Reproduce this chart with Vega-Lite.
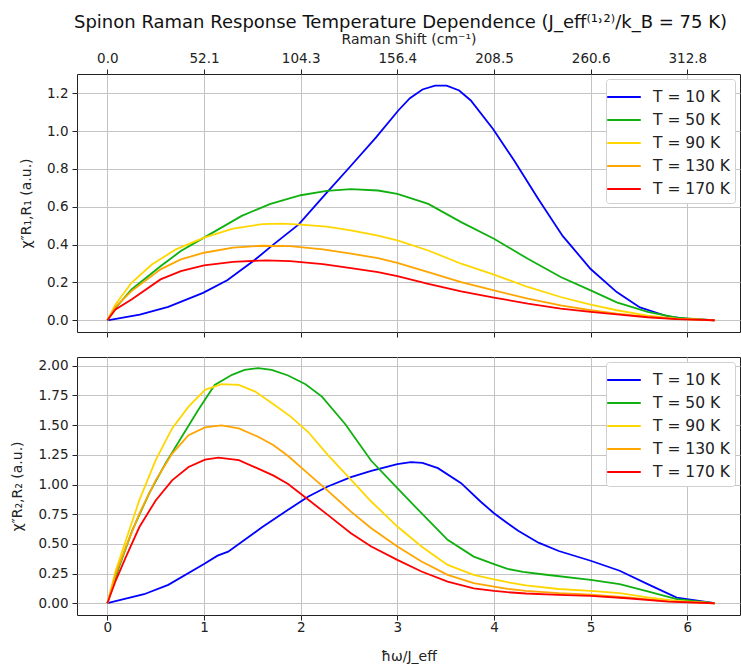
{
  "$schema": "https://vega.github.io/schema/vega-lite/v6.json",
  "background": "white",
  "padding": {"left": 10, "right": 0, "top": 13, "bottom": 5},
  "config": {
    "font": "DejaVu Sans",
    "view": {"stroke": "#222", "strokeWidth": 1},
    "axis": {"labelFont": "DejaVu Sans", "labelFontSize": 13.5, "labelColor": "#222", "titleFont": "DejaVu Sans", "titleFontSize": 14, "titleFontWeight": "normal", "titleColor": "#222", "tickColor": "#222", "tickSize": 5, "domain": false, "gridColor": "#c4c4c4", "gridWidth": 1, "labelPadding": 4},
    "legend": {"orient": "top-right", "offset": 5, "fillColor": "white", "strokeColor": "#d0d0d0", "cornerRadius": 3, "padding": 5, "symbolType": "M-1.4,0H1.4", "symbolSize": 576, "symbolOffset": 0, "symbolStrokeWidth": 2, "labelFont": "DejaVu Sans", "labelFontSize": 15.5, "labelColor": "#222", "rowPadding": 1, "labelOffset": 16},
    "line": {"strokeWidth": 1.8}
  },
  "datasets": {
    "top": [
      {"T": "T = 10 K", "x": 0, "y": 0}, {"T": "T = 10 K", "x": 0.336, "y": 0.03}, {"T": "T = 10 K", "x": 0.63, "y": 0.071}, {"T": "T = 10 K", "x": 0.99, "y": 0.145}, {"T": "T = 10 K", "x": 1.24, "y": 0.212}, {"T": "T = 10 K", "x": 1.51, "y": 0.313}, {"T": "T = 10 K", "x": 1.72, "y": 0.401}, {"T": "T = 10 K", "x": 1.98, "y": 0.507}, {"T": "T = 10 K", "x": 2.27, "y": 0.675}, {"T": "T = 10 K", "x": 2.52, "y": 0.817}, {"T": "T = 10 K", "x": 2.78, "y": 0.967}, {"T": "T = 10 K", "x": 3.01, "y": 1.109}, {"T": "T = 10 K", "x": 3.13, "y": 1.174}, {"T": "T = 10 K", "x": 3.26, "y": 1.22}, {"T": "T = 10 K", "x": 3.39, "y": 1.241}, {"T": "T = 10 K", "x": 3.51, "y": 1.241}, {"T": "T = 10 K", "x": 3.64, "y": 1.215}, {"T": "T = 10 K", "x": 3.76, "y": 1.162}, {"T": "T = 10 K", "x": 3.99, "y": 1.011}, {"T": "T = 10 K", "x": 4.21, "y": 0.843}, {"T": "T = 10 K", "x": 4.46, "y": 0.64}, {"T": "T = 10 K", "x": 4.71, "y": 0.446}, {"T": "T = 10 K", "x": 5.0, "y": 0.271}, {"T": "T = 10 K", "x": 5.27, "y": 0.149}, {"T": "T = 10 K", "x": 5.51, "y": 0.068}, {"T": "T = 10 K", "x": 5.8, "y": 0.02}, {"T": "T = 10 K", "x": 6.0, "y": 0.007}, {"T": "T = 10 K", "x": 6.283, "y": 0},
      {"T": "T = 50 K", "x": 0, "y": 0}, {"T": "T = 50 K", "x": 0.084, "y": 0.065}, {"T": "T = 50 K", "x": 0.25, "y": 0.163}, {"T": "T = 50 K", "x": 0.55, "y": 0.286}, {"T": "T = 50 K", "x": 0.76, "y": 0.366}, {"T": "T = 50 K", "x": 1.0, "y": 0.437}, {"T": "T = 50 K", "x": 1.39, "y": 0.552}, {"T": "T = 50 K", "x": 1.68, "y": 0.614}, {"T": "T = 50 K", "x": 2.0, "y": 0.661}, {"T": "T = 50 K", "x": 2.27, "y": 0.684}, {"T": "T = 50 K", "x": 2.52, "y": 0.693}, {"T": "T = 50 K", "x": 2.8, "y": 0.686}, {"T": "T = 50 K", "x": 3.0, "y": 0.668}, {"T": "T = 50 K", "x": 3.32, "y": 0.615}, {"T": "T = 50 K", "x": 3.66, "y": 0.519}, {"T": "T = 50 K", "x": 4.0, "y": 0.431}, {"T": "T = 50 K", "x": 4.35, "y": 0.325}, {"T": "T = 50 K", "x": 4.69, "y": 0.229}, {"T": "T = 50 K", "x": 5.0, "y": 0.158}, {"T": "T = 50 K", "x": 5.27, "y": 0.095}, {"T": "T = 50 K", "x": 5.59, "y": 0.045}, {"T": "T = 50 K", "x": 5.89, "y": 0.014}, {"T": "T = 50 K", "x": 6.283, "y": 0},
      {"T": "T = 90 K", "x": 0, "y": 0}, {"T": "T = 90 K", "x": 0.084, "y": 0.083}, {"T": "T = 90 K", "x": 0.25, "y": 0.198}, {"T": "T = 90 K", "x": 0.46, "y": 0.295}, {"T": "T = 90 K", "x": 0.71, "y": 0.375}, {"T": "T = 90 K", "x": 1.0, "y": 0.437}, {"T": "T = 90 K", "x": 1.3, "y": 0.485}, {"T": "T = 90 K", "x": 1.6, "y": 0.508}, {"T": "T = 90 K", "x": 1.81, "y": 0.511}, {"T": "T = 90 K", "x": 2.0, "y": 0.506}, {"T": "T = 90 K", "x": 2.27, "y": 0.495}, {"T": "T = 90 K", "x": 2.52, "y": 0.475}, {"T": "T = 90 K", "x": 2.8, "y": 0.448}, {"T": "T = 90 K", "x": 3.0, "y": 0.422}, {"T": "T = 90 K", "x": 3.32, "y": 0.369}, {"T": "T = 90 K", "x": 3.66, "y": 0.299}, {"T": "T = 90 K", "x": 4.0, "y": 0.241}, {"T": "T = 90 K", "x": 4.35, "y": 0.176}, {"T": "T = 90 K", "x": 4.69, "y": 0.123}, {"T": "T = 90 K", "x": 5.0, "y": 0.083}, {"T": "T = 90 K", "x": 5.27, "y": 0.053}, {"T": "T = 90 K", "x": 5.59, "y": 0.025}, {"T": "T = 90 K", "x": 5.89, "y": 0.009}, {"T": "T = 90 K", "x": 6.283, "y": 0},
      {"T": "T = 130 K", "x": 0, "y": 0}, {"T": "T = 130 K", "x": 0.084, "y": 0.071}, {"T": "T = 130 K", "x": 0.25, "y": 0.154}, {"T": "T = 130 K", "x": 0.55, "y": 0.269}, {"T": "T = 130 K", "x": 0.76, "y": 0.322}, {"T": "T = 130 K", "x": 1.0, "y": 0.357}, {"T": "T = 130 K", "x": 1.3, "y": 0.384}, {"T": "T = 130 K", "x": 1.6, "y": 0.394}, {"T": "T = 130 K", "x": 1.89, "y": 0.392}, {"T": "T = 130 K", "x": 2.23, "y": 0.375}, {"T": "T = 130 K", "x": 2.52, "y": 0.352}, {"T": "T = 130 K", "x": 2.8, "y": 0.329}, {"T": "T = 130 K", "x": 3.0, "y": 0.304}, {"T": "T = 130 K", "x": 3.32, "y": 0.255}, {"T": "T = 130 K", "x": 3.66, "y": 0.202}, {"T": "T = 130 K", "x": 4.0, "y": 0.158}, {"T": "T = 130 K", "x": 4.35, "y": 0.114}, {"T": "T = 130 K", "x": 4.69, "y": 0.079}, {"T": "T = 130 K", "x": 5.0, "y": 0.053}, {"T": "T = 130 K", "x": 5.27, "y": 0.035}, {"T": "T = 130 K", "x": 5.59, "y": 0.018}, {"T": "T = 130 K", "x": 5.89, "y": 0.007}, {"T": "T = 130 K", "x": 6.283, "y": 0},
      {"T": "T = 170 K", "x": 0, "y": 0}, {"T": "T = 170 K", "x": 0.084, "y": 0.057}, {"T": "T = 170 K", "x": 0.25, "y": 0.11}, {"T": "T = 170 K", "x": 0.55, "y": 0.216}, {"T": "T = 170 K", "x": 0.76, "y": 0.26}, {"T": "T = 170 K", "x": 1.0, "y": 0.29}, {"T": "T = 170 K", "x": 1.3, "y": 0.309}, {"T": "T = 170 K", "x": 1.64, "y": 0.317}, {"T": "T = 170 K", "x": 1.89, "y": 0.313}, {"T": "T = 170 K", "x": 2.23, "y": 0.297}, {"T": "T = 170 K", "x": 2.52, "y": 0.276}, {"T": "T = 170 K", "x": 2.8, "y": 0.255}, {"T": "T = 170 K", "x": 3.0, "y": 0.234}, {"T": "T = 170 K", "x": 3.32, "y": 0.193}, {"T": "T = 170 K", "x": 3.66, "y": 0.153}, {"T": "T = 170 K", "x": 4.0, "y": 0.12}, {"T": "T = 170 K", "x": 4.35, "y": 0.088}, {"T": "T = 170 K", "x": 4.69, "y": 0.062}, {"T": "T = 170 K", "x": 5.0, "y": 0.044}, {"T": "T = 170 K", "x": 5.27, "y": 0.031}, {"T": "T = 170 K", "x": 5.59, "y": 0.016}, {"T": "T = 170 K", "x": 5.89, "y": 0.006}, {"T": "T = 170 K", "x": 6.283, "y": 0}
    ],
    "bottom": [
      {"T": "T = 10 K", "x": 0, "y": 0}, {"T": "T = 10 K", "x": 0.38, "y": 0.076}, {"T": "T = 10 K", "x": 0.63, "y": 0.155}, {"T": "T = 10 K", "x": 1.0, "y": 0.33}, {"T": "T = 10 K", "x": 1.14, "y": 0.401}, {"T": "T = 10 K", "x": 1.25, "y": 0.434}, {"T": "T = 10 K", "x": 1.6, "y": 0.64}, {"T": "T = 10 K", "x": 1.87, "y": 0.787}, {"T": "T = 10 K", "x": 2.08, "y": 0.899}, {"T": "T = 10 K", "x": 2.28, "y": 0.983}, {"T": "T = 10 K", "x": 2.52, "y": 1.062}, {"T": "T = 10 K", "x": 2.73, "y": 1.115}, {"T": "T = 10 K", "x": 3.0, "y": 1.171}, {"T": "T = 10 K", "x": 3.14, "y": 1.188}, {"T": "T = 10 K", "x": 3.26, "y": 1.183}, {"T": "T = 10 K", "x": 3.42, "y": 1.138}, {"T": "T = 10 K", "x": 3.66, "y": 1.011}, {"T": "T = 10 K", "x": 3.86, "y": 0.857}, {"T": "T = 10 K", "x": 4.0, "y": 0.758}, {"T": "T = 10 K", "x": 4.14, "y": 0.674}, {"T": "T = 10 K", "x": 4.25, "y": 0.61}, {"T": "T = 10 K", "x": 4.46, "y": 0.51}, {"T": "T = 10 K", "x": 4.67, "y": 0.44}, {"T": "T = 10 K", "x": 5.0, "y": 0.358}, {"T": "T = 10 K", "x": 5.3, "y": 0.274}, {"T": "T = 10 K", "x": 5.59, "y": 0.161}, {"T": "T = 10 K", "x": 5.89, "y": 0.048}, {"T": "T = 10 K", "x": 6.283, "y": 0},
      {"T": "T = 50 K", "x": 0, "y": 0}, {"T": "T = 50 K", "x": 0.12, "y": 0.302}, {"T": "T = 50 K", "x": 0.257, "y": 0.612}, {"T": "T = 50 K", "x": 0.43, "y": 0.922}, {"T": "T = 50 K", "x": 0.6, "y": 1.176}, {"T": "T = 50 K", "x": 0.77, "y": 1.402}, {"T": "T = 50 K", "x": 0.94, "y": 1.628}, {"T": "T = 50 K", "x": 1.11, "y": 1.839}, {"T": "T = 50 K", "x": 1.29, "y": 1.924}, {"T": "T = 50 K", "x": 1.42, "y": 1.966}, {"T": "T = 50 K", "x": 1.56, "y": 1.98}, {"T": "T = 50 K", "x": 1.7, "y": 1.966}, {"T": "T = 50 K", "x": 1.87, "y": 1.918}, {"T": "T = 50 K", "x": 2.05, "y": 1.845}, {"T": "T = 50 K", "x": 2.22, "y": 1.74}, {"T": "T = 50 K", "x": 2.46, "y": 1.51}, {"T": "T = 50 K", "x": 2.73, "y": 1.2}, {"T": "T = 50 K", "x": 3.0, "y": 0.969}, {"T": "T = 50 K", "x": 3.25, "y": 0.758}, {"T": "T = 50 K", "x": 3.52, "y": 0.534}, {"T": "T = 50 K", "x": 3.79, "y": 0.393}, {"T": "T = 50 K", "x": 4.0, "y": 0.329}, {"T": "T = 50 K", "x": 4.14, "y": 0.289}, {"T": "T = 50 K", "x": 4.3, "y": 0.265}, {"T": "T = 50 K", "x": 4.54, "y": 0.24}, {"T": "T = 50 K", "x": 5.0, "y": 0.197}, {"T": "T = 50 K", "x": 5.3, "y": 0.161}, {"T": "T = 50 K", "x": 5.59, "y": 0.099}, {"T": "T = 50 K", "x": 5.89, "y": 0.034}, {"T": "T = 50 K", "x": 6.283, "y": 0},
      {"T": "T = 90 K", "x": 0, "y": 0}, {"T": "T = 90 K", "x": 0.086, "y": 0.274}, {"T": "T = 90 K", "x": 0.19, "y": 0.527}, {"T": "T = 90 K", "x": 0.33, "y": 0.866}, {"T": "T = 90 K", "x": 0.5, "y": 1.205}, {"T": "T = 90 K", "x": 0.67, "y": 1.473}, {"T": "T = 90 K", "x": 0.84, "y": 1.656}, {"T": "T = 90 K", "x": 1.01, "y": 1.797}, {"T": "T = 90 K", "x": 1.18, "y": 1.845}, {"T": "T = 90 K", "x": 1.36, "y": 1.839}, {"T": "T = 90 K", "x": 1.53, "y": 1.783}, {"T": "T = 90 K", "x": 1.73, "y": 1.67}, {"T": "T = 90 K", "x": 1.9, "y": 1.57}, {"T": "T = 90 K", "x": 2.08, "y": 1.44}, {"T": "T = 90 K", "x": 2.28, "y": 1.25}, {"T": "T = 90 K", "x": 2.51, "y": 1.05}, {"T": "T = 90 K", "x": 2.73, "y": 0.857}, {"T": "T = 90 K", "x": 3.0, "y": 0.646}, {"T": "T = 90 K", "x": 3.25, "y": 0.478}, {"T": "T = 90 K", "x": 3.52, "y": 0.323}, {"T": "T = 90 K", "x": 3.79, "y": 0.239}, {"T": "T = 90 K", "x": 4.0, "y": 0.202}, {"T": "T = 90 K", "x": 4.14, "y": 0.177}, {"T": "T = 90 K", "x": 4.33, "y": 0.15}, {"T": "T = 90 K", "x": 4.67, "y": 0.12}, {"T": "T = 90 K", "x": 5.0, "y": 0.104}, {"T": "T = 90 K", "x": 5.3, "y": 0.085}, {"T": "T = 90 K", "x": 5.59, "y": 0.05}, {"T": "T = 90 K", "x": 5.89, "y": 0.02}, {"T": "T = 90 K", "x": 6.283, "y": 0},
      {"T": "T = 130 K", "x": 0, "y": 0}, {"T": "T = 130 K", "x": 0.086, "y": 0.245}, {"T": "T = 130 K", "x": 0.19, "y": 0.471}, {"T": "T = 130 K", "x": 0.33, "y": 0.753}, {"T": "T = 130 K", "x": 0.5, "y": 1.035}, {"T": "T = 130 K", "x": 0.67, "y": 1.261}, {"T": "T = 130 K", "x": 0.84, "y": 1.416}, {"T": "T = 130 K", "x": 1.01, "y": 1.481}, {"T": "T = 130 K", "x": 1.18, "y": 1.498}, {"T": "T = 130 K", "x": 1.36, "y": 1.472}, {"T": "T = 130 K", "x": 1.56, "y": 1.402}, {"T": "T = 130 K", "x": 1.72, "y": 1.33}, {"T": "T = 130 K", "x": 1.87, "y": 1.24}, {"T": "T = 130 K", "x": 2.08, "y": 1.09}, {"T": "T = 130 K", "x": 2.25, "y": 0.969}, {"T": "T = 130 K", "x": 2.52, "y": 0.772}, {"T": "T = 130 K", "x": 2.73, "y": 0.632}, {"T": "T = 130 K", "x": 3.0, "y": 0.478}, {"T": "T = 130 K", "x": 3.25, "y": 0.351}, {"T": "T = 130 K", "x": 3.52, "y": 0.239}, {"T": "T = 130 K", "x": 3.79, "y": 0.169}, {"T": "T = 130 K", "x": 4.0, "y": 0.14}, {"T": "T = 130 K", "x": 4.14, "y": 0.121}, {"T": "T = 130 K", "x": 4.33, "y": 0.105}, {"T": "T = 130 K", "x": 4.67, "y": 0.085}, {"T": "T = 130 K", "x": 5.0, "y": 0.072}, {"T": "T = 130 K", "x": 5.38, "y": 0.05}, {"T": "T = 130 K", "x": 5.8, "y": 0.018}, {"T": "T = 130 K", "x": 6.283, "y": 0},
      {"T": "T = 170 K", "x": 0, "y": 0}, {"T": "T = 170 K", "x": 0.086, "y": 0.189}, {"T": "T = 170 K", "x": 0.19, "y": 0.386}, {"T": "T = 170 K", "x": 0.33, "y": 0.64}, {"T": "T = 170 K", "x": 0.5, "y": 0.866}, {"T": "T = 170 K", "x": 0.67, "y": 1.035}, {"T": "T = 170 K", "x": 0.84, "y": 1.148}, {"T": "T = 170 K", "x": 1.01, "y": 1.21}, {"T": "T = 170 K", "x": 1.15, "y": 1.227}, {"T": "T = 170 K", "x": 1.36, "y": 1.205}, {"T": "T = 170 K", "x": 1.56, "y": 1.134}, {"T": "T = 170 K", "x": 1.72, "y": 1.075}, {"T": "T = 170 K", "x": 1.87, "y": 1.005}, {"T": "T = 170 K", "x": 2.06, "y": 0.885}, {"T": "T = 170 K", "x": 2.28, "y": 0.744}, {"T": "T = 170 K", "x": 2.52, "y": 0.59}, {"T": "T = 170 K", "x": 2.73, "y": 0.478}, {"T": "T = 170 K", "x": 3.0, "y": 0.365}, {"T": "T = 170 K", "x": 3.25, "y": 0.267}, {"T": "T = 170 K", "x": 3.52, "y": 0.183}, {"T": "T = 170 K", "x": 3.79, "y": 0.126}, {"T": "T = 170 K", "x": 4.0, "y": 0.104}, {"T": "T = 170 K", "x": 4.14, "y": 0.093}, {"T": "T = 170 K", "x": 4.33, "y": 0.082}, {"T": "T = 170 K", "x": 4.67, "y": 0.07}, {"T": "T = 170 K", "x": 5.0, "y": 0.062}, {"T": "T = 170 K", "x": 5.38, "y": 0.042}, {"T": "T = 170 K", "x": 5.8, "y": 0.014}, {"T": "T = 170 K", "x": 6.283, "y": 0}
    ]
  },
  "spacing": 25,
  "bounds": "flush",
  "resolve": {"scale": {"color": "independent"}, "legend": {"color": "independent"}},
  "vconcat": [
    {
      "title": {"text": "Spinon Raman Response Temperature Dependence (J_eff⁽¹˒²⁾/k_B = 75 K)", "fontSize": 18, "fontWeight": "normal", "font": "DejaVu Sans", "color": "#111", "offset": 0, "anchor": "start", "frame": "group", "dx": -3},
      "width": 663,
      "height": 258,
      "data": {"name": "top"},
      "layer": [
        {
          "mark": {"type": "line", "strokeOpacity": 0},
          "encoding": {
            "x": {"field": "x", "type": "quantitative", "scale": {"domain": [-0.314, 6.545], "nice": false, "zero": false}, "axis": {"orient": "bottom", "values": [0, 1, 2, 3, 4, 5, 6], "labels": false, "title": null, "grid": true}},
            "y": {"field": "y", "type": "quantitative", "scale": {"domain": [-0.062, 1.302], "nice": false, "zero": false}, "axis": {"values": [0, 0.2, 0.4, 0.6, 0.8, 1.0, 1.2], "format": ".1f", "title": "χ″R₁,R₁ (a.u.)", "titlePadding": 13}},
            "detail": {"field": "T"}
          }
        },
        {
          "mark": {"type": "line"},
          "encoding": {
            "x": {"field": "x", "type": "quantitative", "scale": {"domain": [-0.314, 6.545], "nice": false, "zero": false}, "axis": {"orient": "top", "values": [0, 1, 2, 3, 4, 5, 6], "labelExpr": "format(datum.value * 52.128, '.1f')", "title": "Raman Shift (cm⁻¹)", "titlePadding": 5, "grid": false}},
            "y": {"field": "y", "type": "quantitative", "scale": {"domain": [-0.062, 1.302], "nice": false, "zero": false}, "axis": {"values": [0, 0.2, 0.4, 0.6, 0.8, 1.0, 1.2], "format": ".1f", "title": "χ″R₁,R₁ (a.u.)", "titlePadding": 13}},
            "color": {"field": "T", "type": "nominal", "sort": ["T = 10 K", "T = 50 K", "T = 90 K", "T = 130 K", "T = 170 K"], "scale": {"domain": ["T = 10 K", "T = 50 K", "T = 90 K", "T = 130 K", "T = 170 K"], "range": ["#0000ff", "#10b010", "#ffd700", "#ffa500", "#ff0000"]}, "legend": {"title": null}}
          }
        }
      ],
      "resolve": {"axis": {"x": "independent"}}
    },
    {
      "width": 663,
      "height": 258,
      "data": {"name": "bottom"},
      "mark": {"type": "line"},
      "encoding": {
        "x": {"field": "x", "type": "quantitative", "scale": {"domain": [-0.314, 6.545], "nice": false, "zero": false}, "axis": {"values": [0, 1, 2, 3, 4, 5, 6], "format": "d", "title": "ħω/J_eff", "labelPadding": 0, "titlePadding": 16}},
        "y": {"field": "y", "type": "quantitative", "scale": {"domain": [-0.099, 2.074], "nice": false, "zero": false}, "axis": {"values": [0, 0.25, 0.5, 0.75, 1.0, 1.25, 1.5, 1.75, 2.0], "format": ".2f", "title": "χ″R₂,R₂ (a.u.)", "titlePadding": 13}},
        "color": {"field": "T", "type": "nominal", "sort": ["T = 10 K", "T = 50 K", "T = 90 K", "T = 130 K", "T = 170 K"], "scale": {"domain": ["T = 10 K", "T = 50 K", "T = 90 K", "T = 130 K", "T = 170 K"], "range": ["#0000ff", "#10b010", "#ffd700", "#ffa500", "#ff0000"]}, "legend": {"title": null}}
      }
    }
  ]
}
